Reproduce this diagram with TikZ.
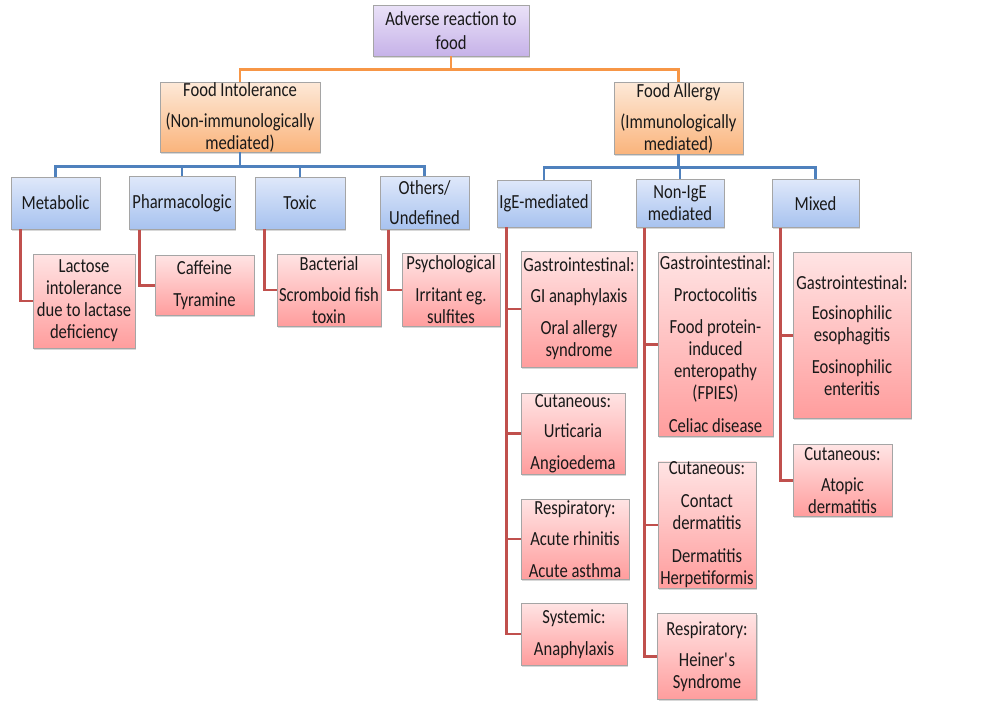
\documentclass[tikz,border=0pt]{standalone}
\usepackage{fontspec}
\setmainfont{Carlito}[FakeStretch=0.83]
\usetikzlibrary{positioning,shadows}
\definecolor{purpletop}{HTML}{EAE2F8}
\definecolor{purplebot}{HTML}{C6B2E8}
\definecolor{orangetop}{HTML}{FDE9D8}
\definecolor{orangebot}{HTML}{FAB47C}
\definecolor{bluetop}{HTML}{DFE8FA}
\definecolor{bluebot}{HTML}{A7C2EF}
\definecolor{redtop}{HTML}{FFE4E4}
\definecolor{redbot}{HTML}{FF9D9D}
\definecolor{boxgray}{HTML}{A5A5A5}
\definecolor{linkorange}{HTML}{F79646}
\definecolor{linkblue}{HTML}{4F81BD}
\definecolor{linkred}{HTML}{C0504D}

\begin{document}
\begin{tikzpicture}[x=1pt, y=1pt, on grid,
  font=\fontsize{20}{22}\selectfont,
  chartbox/.style={draw=boxgray, line width=0.6pt, align=center, inner sep=0pt, text=black!90,
    drop shadow={shadow xshift=1.3pt, shadow yshift=-1.6pt, opacity=0.3}},
  boxsize/.style 2 args={minimum width=#1pt, minimum height=#2pt},
  rootbox/.style={chartbox, top color=purpletop, bottom color=purplebot},
  groupbox/.style={chartbox, top color=orangetop, bottom color=orangebot},
  typebox/.style={chartbox, top color=bluetop, bottom color=bluebot},
  itembox/.style={chartbox, top color=redtop, bottom color=redbot},
  orangelink/.style={draw=linkorange, line width=2.6pt},
  bluelink/.style={draw=linkblue, line width=2.6pt},
  redlink/.style={draw=linkred, line width=2.6pt}]
 \fill[white] (0,0) rectangle (986,-702);
 \useasboundingbox (0,0) rectangle (986,-702);

 \node[rootbox, boxsize={156}{51}] (root) at (451,-30.5) {Adverse reaction to\\[2pt]food};
 \node[groupbox, boxsize={160}{70}, below left=86.5pt and 211pt of root] (intol) {Food Intolerance\\[9pt](Non-immunologically\\mediated)};
 \node[groupbox, boxsize={129}{72}, below right=87.5pt and 227.5pt of root] (allergy) {Food Allergy\\[9pt](Immunologically\\mediated)};

 \node[typebox, boxsize={89}{52}, below left=86pt and 184.5pt of intol] (metabolic) {Metabolic};
 \node[typebox, boxsize={106}{53}, right=126.5pt of metabolic] (pharma) {Pharmacologic};
 \node[typebox, boxsize={90}{52}, right=118pt of pharma] (toxic) {Toxic};
 \node[typebox, boxsize={89}{53}, right=124.5pt of toxic] (others) {Others/\\[8pt]Undefined};
 \node[typebox, boxsize={94}{47}, below left=85.5pt and 134.5pt of allergy] (ige) {IgE-mediated};
 \node[typebox, boxsize={88}{48}, right=136pt of ige] (nonige) {Non-IgE\\mediated};
 \node[typebox, boxsize={87}{48}, right=135.5pt of nonige] (mixed) {Mixed};

 \node[itembox, boxsize={102}{94}, below right=98pt and 28.5pt of metabolic] (lactose) {Lactose\\intolerance\\due to lactase\\deficiency};
 \node[itembox, boxsize={99}{60}, below right=82.5pt and 22.5pt of pharma] (caffeine) {Caffeine\\[10pt]Tyramine};
 \node[itembox, boxsize={104}{72}, below right=87pt and 29pt of toxic] (bacterial) {Bacterial\\[9pt]Scromboid fish\\toxin};
 \node[itembox, boxsize={98}{73}, below right=87pt and 26.5pt of others] (psycho) {Psychological\\[10pt]Irritant eg.\\sulfites};

 \node[itembox, boxsize={116}{116}, below right=105.5pt and 35pt of ige] (igegi) {Gastrointestinal:\\[9pt]GI anaphylaxis\\[10pt]Oral allergy\\syndrome};
 \node[itembox, boxsize={104}{81}, below left=124.5pt and 6pt of igegi] (igecut) {Cutaneous:\\[8pt]Urticaria\\[10pt]Angioedema};
 \node[itembox, boxsize={108}{80}, below right=105.5pt and 2pt of igecut] (igeresp) {Respiratory:\\[9pt]Acute rhinitis\\[10pt]Acute asthma};
 \node[itembox, boxsize={106}{62}, below left=95pt and 1pt of igeresp] (igesys) {Systemic:\\[10pt]Anaphylaxis};

 \node[itembox, boxsize={115}{184}, below right=141pt and 35.5pt of nonige] (ngi) {Gastrointestinal:\\[10pt]Proctocolitis\\[10pt]Food protein-\\induced\\enteropathy\\(FPIES)\\[11pt]Celiac disease};
 \node[itembox, boxsize={98}{125}, below left=180.5pt and 8.5pt of ngi] (ncut) {Cutaneous:\\[11pt]Contact\\dermatitis\\[11pt]Dermatitis\\Herpetiformis};
 \node[itembox, boxsize={99}{86}, below=131.5pt of ncut] (nresp) {Respiratory:\\[9pt]Heiner\textquotesingle s\\Syndrome};

 \node[itembox, boxsize={118}{166}, below right=132pt and 36.5pt of mixed] (mgi) {Gastrointestinal:\\[8pt]Eosinophilic\\esophagitis\\[10pt]Eosinophilic\\enteritis};
 \node[itembox, boxsize={99}{72}, below left=145pt and 9.5pt of mgi] (mcut) {Cutaneous:\\[9pt]Atopic\\dermatitis};

 \draw[orangelink] (root.south) -- ++(0,-13) -| (intol.north)
  (root.south) -- ++(0,-13) -| (allergy.north);
 \draw[bluelink] (intol.south) -- ++(0,-14) -| (metabolic.north)
  (intol.south) -- ++(0,-14) -| (pharma.north)
  (intol.south) -- ++(0,-14) -| (toxic.north)
  (intol.south) -- ++(0,-14) -| (others.north);
 \draw[bluelink] (allergy.south) -- ++(0,-13) -| (ige.north)
  (allergy.south) -- ++(0,-13) -| (nonige.north)
  (allergy.south) -- ++(0,-13) -| (mixed.north);
 \draw[redlink] ([xshift=10pt]metabolic.south west) |- (lactose.west);
 \draw[redlink] ([xshift=11pt]pharma.south west) |- (caffeine.west);
 \draw[redlink] ([xshift=10pt]toxic.south west) |- (bacterial.west);
 \draw[redlink] ([xshift=9pt]others.south west) |- (psycho.west);
 \draw[redlink] ([xshift=10pt]ige.south west) |- (igegi.west)
  ([xshift=10pt]ige.south west) |- (igecut.west)
  ([xshift=10pt]ige.south west) |- (igeresp.west)
  ([xshift=10pt]ige.south west) |- (igesys.west);
 \draw[redlink] ([xshift=9pt]nonige.south west) |- (ngi.west)
  ([xshift=9pt]nonige.south west) |- (ncut.west)
  ([xshift=9pt]nonige.south west) |- (nresp.west);
 \draw[redlink] ([xshift=9pt]mixed.south west) |- (mgi.west)
  ([xshift=9pt]mixed.south west) |- (mcut.west);
\end{tikzpicture}
\end{document}
